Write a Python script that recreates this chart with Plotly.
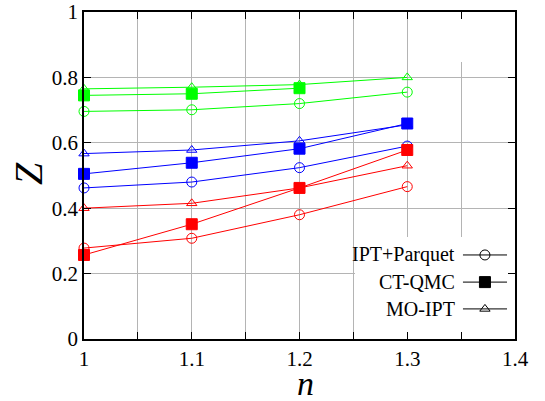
import plotly.graph_objects as go

# ---- data ----
n = [1.0, 1.1, 1.2, 1.3]
n_ctqmc_green = [1.0, 1.1, 1.2]

ipt_parquet_red = [0.278, 0.308, 0.380, 0.466]
ipt_parquet_blue = [0.462, 0.480, 0.524, 0.590]
ipt_parquet_green = [0.696, 0.701, 0.720, 0.755]

ctqmc_red = [0.257, 0.351, 0.462, 0.578]
ctqmc_blue = [0.505, 0.539, 0.582, 0.659]
ctqmc_green = [0.745, 0.750, 0.767]

mo_ipt_red = [0.400, 0.415, 0.462, 0.530]
mo_ipt_blue = [0.567, 0.578, 0.606, 0.655]
mo_ipt_green = [0.765, 0.770, 0.778, 0.800]

legend_labels = ["IPT+Parquet", "CT-QMC", "MO-IPT"]
x_ticks = [1.0, 1.1, 1.2, 1.3, 1.4]
x_ticklabels = ["1", "1.1", "1.2", "1.3", "1.4"]
y_ticks = [0, 0.2, 0.4, 0.6, 0.8, 1.0]
y_ticklabels = ["0", "0.2", "0.4", "0.6", "0.8", "1"]

RED, BLUE, GREEN = "#ff0000", "#0000ff", "#00ff00"
FONT = "Liberation Serif"

fig = go.Figure()

def add(x, y, color, symbol, size):
    fig.add_trace(go.Scatter(
        x=x, y=y, mode="lines+markers",
        line=dict(color=color, width=1),
        marker=dict(symbol=symbol, size=size, color=color,
                    line=dict(color=color, width=1)),
        showlegend=False, cliponaxis=False))

for ys, c in [(ipt_parquet_red, RED), (ipt_parquet_blue, BLUE), (ipt_parquet_green, GREEN)]:
    add(n, ys, c, "circle-open", 10)
add(n, ctqmc_red, RED, "square", 11)
add(n, ctqmc_blue, BLUE, "square", 11)
add(n_ctqmc_green, ctqmc_green, GREEN, "square", 11)
for ys, c in [(mo_ipt_red, RED), (mo_ipt_blue, BLUE), (mo_ipt_green, GREEN)]:
    add(n, ys, c, "triangle-up-open", 9)

# ---- gnuplot-style key (text left, sample right) ----
key_rows = [0.257, 0.174, 0.092]
key_symbols = ["circle-open", "square", "triangle-up-open"]
key_sizes = [10, 11, 9]
for lab, yr, sym, sz in zip(legend_labels, key_rows, key_symbols, key_sizes):
    fig.add_trace(go.Scatter(x=[1.3517, 1.3926], y=[yr, yr], mode="lines",
                             line=dict(color="black", width=1),
                             showlegend=False, hoverinfo="skip"))
    fig.add_trace(go.Scatter(x=[1.3721], y=[yr], mode="markers",
                             marker=dict(symbol=sym, size=sz, color="black",
                                         line=dict(color="black", width=1)),
                             showlegend=False, hoverinfo="skip"))
    fig.add_annotation(x=1.346, y=yr, xref="x", yref="y", text=lab,
                       showarrow=False, xanchor="right", yanchor="middle",
                       font=dict(family=FONT, size=20, color="black"))

# key background hides the grid
fig.add_shape(type="rect", xref="x", yref="y", x0=1.2515, x1=1.3995,
              y0=0.002, y1=0.312, fillcolor="white", line=dict(width=0),
              layer="between")
fig.add_shape(type="line", xref="x", yref="y", x0=1.35, x1=1.35,
              y0=0.847, y1=0.998, line=dict(color="white", width=2),
              layer="between")

axis_common = dict(
    showline=True, linecolor="black", linewidth=1.5, mirror="allticks",
    ticks="inside", ticklen=7, tickcolor="black", tickwidth=1,
    showgrid=True, gridcolor="#b4b4b4", gridwidth=1, zeroline=False,
    automargin=False,
    tickfont=dict(family=FONT, size=21, color="black"),
)

fig.update_xaxes(range=[1.0, 1.4], tickvals=x_ticks, ticktext=x_ticklabels,
                 minor=dict(dtick=0.05, tick0=1.0, ticks="inside", ticklen=7,
                            tickcolor="black", showgrid=True,
                            gridcolor="#b4b4b4", gridwidth=1),
                 **axis_common)
fig.update_yaxes(range=[0, 1.0], tickvals=y_ticks, ticktext=y_ticklabels,
                 **axis_common)

# rotated italic Z (reads bottom-to-top)
fig.add_annotation(x=(28 - 84) / 431, y=(339 - 174) / 327, xref="paper", yref="paper",
                   text="<i>Z</i>", textangle=-90,
                   showarrow=False, xanchor="center", yanchor="middle",
                   font=dict(family=FONT, size=40, color="black"))
fig.add_annotation(x=(305 - 84) / 431, y=(339 - 383) / 327, xref="paper", yref="paper",
                   text="<i>n</i>",
                   showarrow=False, xanchor="center", yanchor="middle",
                   font=dict(family=FONT, size=34, color="black"))

fig.update_layout(width=545, height=401,
                  margin=dict(l=84, r=30, t=12, b=62),
                  plot_bgcolor="white", paper_bgcolor="white")

fig.write_html("out.html")
